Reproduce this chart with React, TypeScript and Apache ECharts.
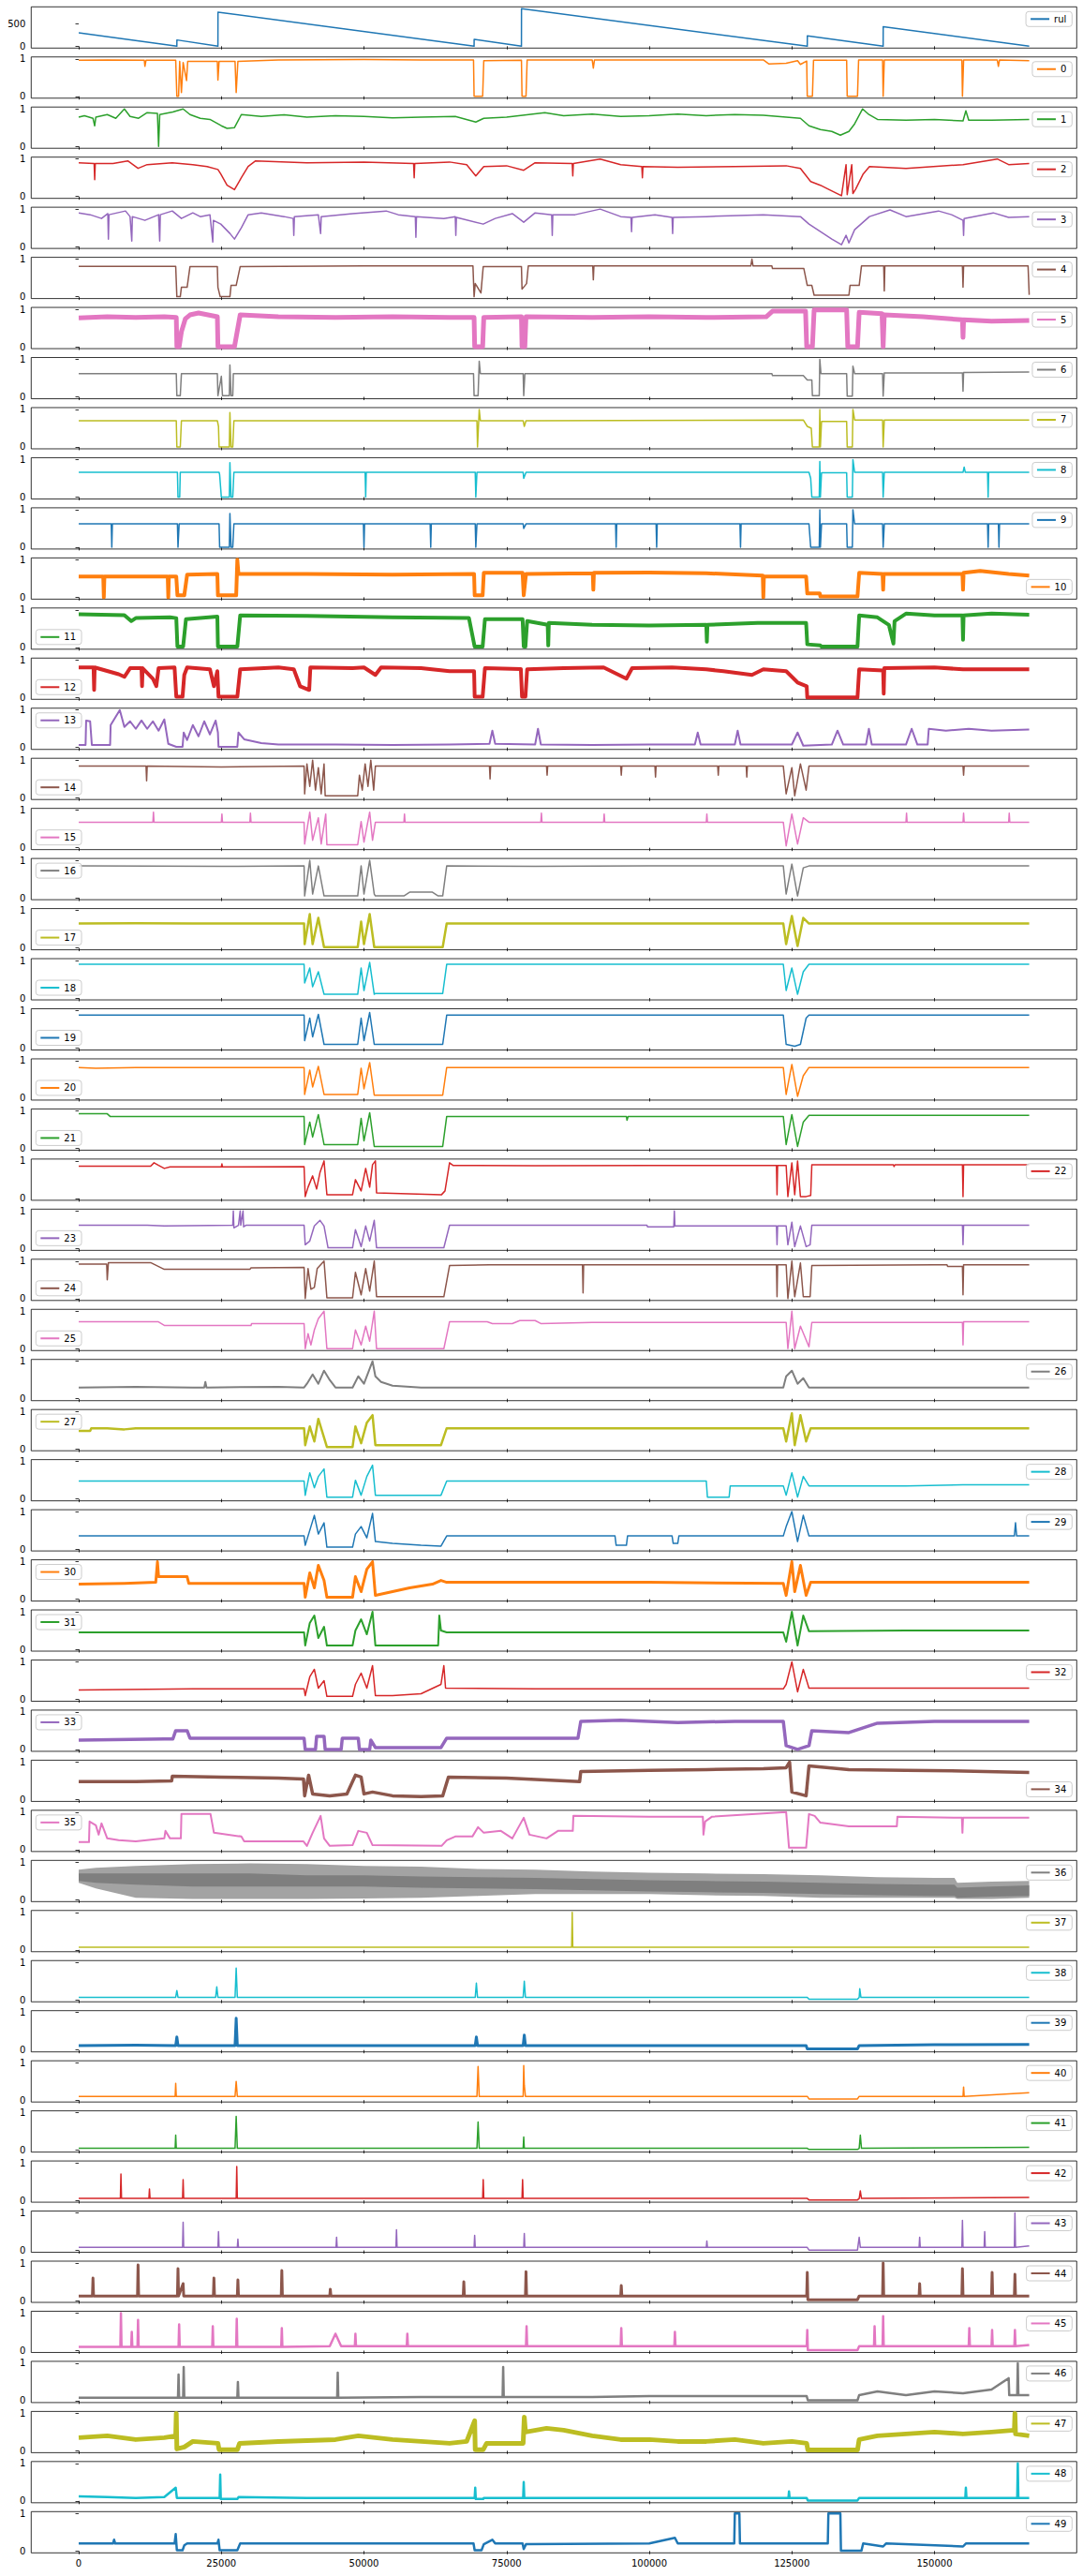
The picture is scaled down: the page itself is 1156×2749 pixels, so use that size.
import React, { useEffect, useRef } from 'react';
import * as echarts from 'echarts';

// Flat pairs: t (thousands of samples), value (percent of 0..1). rul in raw units.
const rul = [0,303, 17.2,0, 17.21,141, 24.4,0, 24.41,768, 69.3,0, 69.31,155, 77.6,0, 77.61,845, 127.7,0, 127.71,232, 141,0, 141.01,437, 166.6,0];
const s0 = [0,96, 5,97, 11.5,96, 11.6,80, 11.8,96, 17,96, 17.2,0, 17.5,0, 17.7,93, 18,10, 18.3,90, 18.9,42, 19.1,93, 24.3,93, 24.4,43, 24.6,93, 27.4,93, 27.6,10, 27.9,93, 35,97, 50,98, 60,97, 69.2,97, 69.3,0, 70.8,0, 71,95, 77.6,96, 77.7,0, 78.4,0, 78.6,97, 90,97, 90.2,75, 90.4,97, 120,97, 121,86, 124,88, 126,95, 126.5,85, 127.6,94, 127.7,0, 128.6,0, 128.8,96, 134.6,96, 134.7,0, 136.5,0, 136.7,97, 140.9,97, 141,0, 141.2,97, 154.8,97, 154.9,0, 155.1,97, 161,97, 161.2,80, 161.4,97, 166.6,95];
const s1 = [0,78, 1,82, 2.5,75, 2.8,55, 3,78, 5,85, 6.5,75, 8,100, 9,80, 10.5,75, 12,90, 13.8,88, 14,0, 14.2,85, 16.5,92, 18.3,100, 19.5,85, 21.3,75, 23,72, 25,55, 26,48, 27.3,50, 28,70, 28.5,85, 32,80, 36,84, 40,78, 45,82, 50,80, 55,76, 60,78, 66,80, 69.6,65, 71,75, 75,78, 81.7,90, 85,82, 90,86, 95,80, 100,82, 105,86, 110,82, 115,85, 120,83, 126.5,75, 128,55, 130,45, 132,40, 133.5,30, 135,40, 136,60, 137.4,100, 138.5,85, 140,72, 145,70, 150,72, 155,68, 155.5,95, 156,70, 160,70, 166.6,72];
const s2 = [0,90, 2.7,88, 2.8,45, 2.9,88, 6,88, 8.6,95, 10.4,75, 12,85, 16.4,90, 20,85, 22.5,80, 24.4,72, 24.9,60, 26,30, 27.3,18, 28.5,50, 29.7,80, 31,95, 40,90, 50,92, 58.7,88, 58.8,50, 58.9,88, 65,92, 68,85, 69.6,55, 71,80, 75,82, 78,70, 80,90, 86.5,88, 86.6,55, 86.7,88, 91.4,100, 95,85, 98.7,80, 98.8,50, 98.9,80, 105,78, 115,80, 124,82, 126.5,75, 128.3,40, 130,30, 131.3,20, 133.7,2, 134.5,85, 134.7,5, 135.5,85, 135.7,8, 136.2,20, 137.5,60, 138.6,80, 145,75, 155,85, 161,100, 163,85, 166.6,88];
const s3 = [0,90, 2,85, 4,75, 5.1,88, 5.2,20, 5.3,85, 8.2,95, 9,80, 9.3,15, 9.4,80, 11.6,70, 14,85, 14.2,15, 14.3,85, 16.4,95, 18,75, 20,90, 21.3,80, 23,85, 23.5,12, 23.6,70, 24.9,60, 26.5,35, 27.3,20, 28.5,50, 29.7,85, 32,90, 36,80, 37.6,75, 37.7,30, 37.8,80, 42,85, 42.4,35, 42.5,80, 48,88, 53.9,95, 56,85, 59,80, 59.1,25, 59.2,80, 64,75, 66,80, 66.1,30, 66.2,78, 70.9,60, 73,75, 76,88, 78,65, 80,90, 82.9,85, 83,30, 83.1,85, 87,85, 91.4,100, 95,80, 96.8,78, 96.9,40, 97,78, 101,85, 104,78, 104.1,35, 104.2,78, 110,80, 120,85, 126.5,80, 128,60, 130,40, 132,20, 133.7,5, 134.5,30, 135,10, 136,45, 138.6,80, 142.2,98, 145,80, 150.7,95, 153,85, 155,70, 155.1,30, 155.2,75, 160.3,90, 163,78, 166.6,80];
const s4 = [0,81, 17,81, 17.2,0, 17.8,0, 18,25, 19,25, 19.5,80, 24.3,80, 24.4,25, 24.8,0, 26.5,0, 26.7,30, 27.6,30, 28.3,80, 50,82, 69.1,82, 69.3,0, 69.5,35, 70.5,10, 70.9,80, 77.6,80, 77.7,20, 78.5,35, 78.8,82, 90.1,82, 90.2,45, 90.3,82, 117.8,82, 118,100, 118.2,82, 121.5,82, 121.6,75, 127.1,75, 127.3,60, 127.7,30, 128.5,30, 128.9,4, 135,4, 135.2,30, 136.8,30, 137.2,82, 141.1,82, 141.2,15, 141.3,82, 154.9,82, 155,25, 155.1,82, 166.4,82, 166.6,5];
const s5 = [0,77, 5,80, 10,78, 15,80, 17.1,78, 17.2,0, 17.6,0, 18,40, 18.7,75, 19.5,85, 21,90, 24.3,80, 24.4,0, 27.3,0, 28.3,85, 35,80, 45,78, 55,80, 65,78, 69.3,78, 69.4,0, 70.8,0, 71,78, 77.6,80, 77.7,0, 78.2,0, 78.4,80, 90,78, 100,80, 110,78, 120.5,80, 121.6,95, 127.4,95, 127.6,0, 128.6,0, 128.9,98, 134.6,98, 134.8,0, 136.5,0, 136.8,92, 140.8,88, 141,0, 141.2,85, 148,80, 154.9,72, 155,25, 155.1,72, 160,68, 166.6,70];
const s6 = [0,62, 17.1,62, 17.2,3, 17.8,3, 18,62, 24.3,62, 24.4,3, 25,55, 25.2,3, 26.4,3, 26.5,85, 26.7,3, 27,3, 27.1,62, 69.2,62, 69.3,3, 70,3, 70.2,95, 70.4,62, 77.9,62, 78,3, 78.2,62, 121.5,62, 121.6,57, 127,57, 127.7,45, 128.5,45, 128.6,3, 129.8,3, 129.9,100, 130.1,62, 134.6,62, 134.7,2, 135.6,2, 135.7,82, 136,62, 140.9,62, 141,2, 141.2,64, 154.9,64, 155,15, 155.1,65, 166.6,66];
const s7 = [0,70, 17.1,70, 17.2,0, 17.8,0, 18,70, 24.3,70, 24.5,55, 24.6,0, 26.4,0, 26.5,92, 26.7,0, 27,0, 27.2,70, 69.8,70, 69.9,0, 70.2,100, 70.4,70, 77.9,70, 78.1,55, 78.4,70, 127,72, 127.7,55, 128.4,50, 128.6,0, 129.8,0, 129.9,100, 130,0, 130.2,68, 134.6,68, 134.7,0, 135.6,0, 135.7,100, 136,72, 140.9,72, 141,0, 141.2,72, 166.6,72];
const s8 = [0,66, 17.3,66, 17.4,0, 17.7,0, 17.8,66, 24.6,66, 24.7,60, 25,0, 26.4,0, 26.5,92, 26.7,0, 27,0, 27.2,66, 50.2,66, 50.3,0, 50.4,66, 69.5,66, 69.6,0, 69.8,66, 77.9,66, 78,50, 78.4,66, 128,66, 128.3,50, 128.5,0, 129.8,0, 129.9,95, 130,0, 130.2,65, 134.6,65, 134.7,0, 135.6,0, 135.7,100, 136,66, 140.9,66, 141,0, 141.2,66, 155,66, 155.2,80, 155.4,66, 159.3,66, 159.4,0, 159.5,66, 166.6,66];
const s9 = [0,62, 5.7,62, 5.8,0, 5.9,62, 17.3,62, 17.4,0, 17.6,62, 24.6,62, 24.7,0, 26.4,0, 26.5,90, 26.7,0, 27,0, 27.2,62, 49.9,62, 50,0, 50.1,62, 61.6,62, 61.7,0, 61.8,62, 69.5,62, 69.6,0, 69.8,62, 77.9,62, 78,50, 78.4,62, 94.1,62, 94.2,0, 94.3,62, 101.2,62, 101.3,0, 101.4,62, 115.9,62, 116,0, 116.1,62, 128,62, 128.3,0, 129.8,0, 129.9,100, 130,0, 130.2,62, 134.6,62, 134.7,0, 135.6,0, 135.7,100, 136,62, 140.9,62, 141,0, 141.2,62, 159.3,62, 159.4,0, 159.5,62, 161.2,62, 161.3,0, 161.4,62, 166.6,62];
const s10 = [0,55, 4.3,55, 4.4,0, 4.5,55, 15.6,55, 15.7,0, 15.8,55, 17.1,55, 17.3,5, 18.5,5, 19,60, 24.3,62, 24.4,5, 27.6,5, 27.8,100, 28,62, 40,62, 55,60, 69.3,62, 69.4,5, 70.8,5, 71,65, 77.8,65, 78,5, 78.4,62, 90.1,64, 90.2,20, 90.3,65, 100,66, 110,64, 119.9,58, 120,0, 120.1,56, 127.5,55, 127.7,10, 129.9,10, 130,2, 136.5,2, 136.8,65, 140.9,62, 141,20, 141.1,62, 154.9,62, 155,20, 155.1,65, 158,70, 163,62, 166.6,58];
const s11 = [0,88, 8,86, 9.2,70, 10,78, 16,80, 17.1,78, 17.3,2, 18.3,2, 18.8,75, 24.3,82, 24.4,2, 27.8,2, 28.3,85, 40,84, 55,80, 68.4,78, 69.4,2, 70.8,2, 71.2,75, 77.8,75, 78,2, 78.3,2, 78.6,70, 82.2,60, 82.3,5, 82.4,65, 90,60, 100,58, 110,60, 110.1,15, 110.2,60, 119,65, 127.5,65, 127.7,8, 130,5, 130.2,2, 136.5,2, 136.8,85, 140,80, 142,60, 142.8,10, 143,70, 145,90, 150,85, 154.9,85, 155,20, 155.1,85, 160,90, 166.6,87];
const s12 = [0,80, 2.6,80, 2.7,20, 2.8,80, 7,62, 8,55, 9,78, 11,78, 11.1,30, 11.2,78, 13,50, 13.6,30, 14,78, 16.8,80, 17.1,2, 18.2,2, 18.5,60, 19,80, 23,75, 23.7,30, 24.3,70, 24.5,2, 27.8,2, 28.3,75, 35,80, 37.7,75, 38.8,30, 40.4,20, 40.6,80, 48,78, 50,80, 52,60, 53,80, 60,78, 65,70, 69.3,70, 69.4,2, 70.8,2, 71.2,78, 77.5,76, 77.7,2, 78.3,2, 78.6,75, 85,78, 92,80, 96,50, 97,78, 104,80, 110,75, 113,70, 118,60, 120,75, 124,70, 126,40, 127.6,30, 127.7,0, 136.5,0, 136.8,75, 141,72, 141.1,10, 141.2,78, 150,80, 155,75, 166.6,75];
const s13 = [0,7, 1.2,7, 1.3,72, 2,70, 2.3,7, 5.5,7, 5.6,60, 7.2,100, 8,55, 9,70, 10,50, 11,72, 12,50, 13,70, 14,45, 15,75, 15.7,10, 17.1,2, 18.2,2, 18.4,40, 19,20, 20,60, 21,30, 22,70, 23,35, 24,72, 24.4,40, 24.5,2, 27.8,2, 28,40, 29,22, 32,12, 35,8, 45,8, 55,7, 65,8, 72,10, 72.5,45, 73,10, 80,8, 80.5,50, 81,8, 90,7, 100,8, 108,8, 108.5,40, 109,8, 115,8, 115.5,45, 116,8, 125,8, 126,40, 127,5, 132,8, 133,45, 134,8, 138,8, 138.5,50, 139,8, 145,8, 146,50, 147,8, 148.8,8, 149,50, 152,45, 156,50, 160,45, 166.6,48];
const s14 = [0,84, 11.8,84, 11.9,45, 12,84, 25,82, 39.5,84, 39.6,10, 40,90, 40.5,30, 41,100, 41.5,20, 42,80, 42.5,10, 43,90, 43.2,5, 48.9,5, 49.2,60, 49.7,20, 50.2,90, 50.7,30, 51.2,100, 51.7,20, 52,84, 60,84, 72,84, 72.1,50, 72.2,84, 82,84, 82.1,60, 82.2,84, 95,84, 95.1,60, 95.2,84, 101,84, 101.1,55, 101.2,84, 112,84, 112.1,60, 112.2,84, 117,84, 117.1,55, 117.2,84, 123.5,84, 124,10, 125,80, 125.5,5, 126.5,90, 127.5,20, 128,84, 140,84, 155,84, 155.1,60, 155.2,84, 166.6,84];
const s15 = [0,68, 13,68, 13.1,95, 13.2,68, 25,68, 25.1,90, 25.2,68, 30,68, 30.1,92, 30.2,68, 39.5,68, 39.6,10, 40.5,95, 41,20, 42,80, 42.5,10, 43.3,90, 43.5,8, 48.9,8, 49.5,70, 50,15, 51,95, 51.5,20, 52,68, 57,68, 57.1,90, 57.2,68, 81,68, 81.1,92, 81.2,68, 92,68, 92.1,90, 92.2,68, 110,68, 110.1,90, 110.2,68, 123.5,68, 124,5, 125,90, 126,10, 127,80, 128,68, 145,68, 145.1,92, 145.2,68, 155,68, 155.1,92, 155.2,68, 163,68, 163.1,92, 163.2,68, 166.6,68];
const s16 = [0,85, 25,84, 39.5,85, 39.6,5, 40.5,100, 41,10, 42,85, 43,5, 48.9,5, 49.5,85, 50,10, 51,100, 51.8,10, 52,5, 57,5, 58,15, 62,15, 63,5, 63.8,5, 64.5,85, 80,84, 100,85, 123.5,85, 124,10, 125,90, 126,5, 127,80, 128,85, 145,85, 166.6,85];
const s17 = [0,65, 10,66, 20,65, 30,65, 39.5,65, 39.6,10, 40.5,90, 41,10, 42,80, 43,2, 48.9,2, 49.5,70, 50,10, 51,90, 51.8,2, 63.8,2, 64.5,65, 80,65, 100,65, 123.5,65, 124,10, 125,85, 126,5, 127,80, 128,65, 145,65, 166.6,65];
const s18 = [0,90, 39.5,90, 39.6,40, 40.5,80, 41,30, 42,70, 43,10, 48.9,10, 49.5,80, 50,20, 51,95, 51.8,10, 52,12, 63.8,12, 64.5,90, 123.5,90, 124,20, 125,80, 126,10, 127,70, 128,90, 166.6,90];
const s19 = [0,88, 39.5,88, 39.6,20, 40.5,80, 41,30, 42,90, 43,10, 48.9,10, 49.5,80, 50,20, 51,95, 51.8,10, 63.8,10, 64.5,88, 123.5,88, 124,10, 125.5,5, 126.5,10, 127.5,80, 128,88, 166.6,88];
const s20 = [0,82, 3,80, 10,82, 39.5,82, 39.6,10, 40.5,75, 41,30, 42,85, 43,10, 48.9,10, 49.5,80, 50,25, 51,95, 51.8,8, 63.8,8, 64.5,82, 123.5,82, 124,10, 125,90, 126,5, 127,60, 128,82, 166.6,82];
const s21 = [0,92, 5,92, 5.5,85, 25,85, 39.5,85, 39.6,10, 40.5,70, 41,30, 42,90, 43,10, 48.9,10, 49.5,80, 50,20, 51,95, 51.8,5, 63.8,5, 64.5,85, 96,85, 96.1,75, 96.3,85, 123.5,85, 124,10, 125,90, 126,5, 127,70, 128,88, 166.6,88];
const s22 = [0,86, 12.6,86, 13.2,95, 14,88, 15,80, 16,84, 25,84, 25.1,92, 25.2,84, 39.5,85, 39.7,5, 40.2,30, 41,60, 41.7,25, 42.3,70, 43,100, 43.5,10, 48,10, 48.5,50, 49.5,20, 50.3,80, 51,30, 51.5,90, 52,100, 52.2,15, 63.6,10, 64.2,20, 65,95, 65.6,88, 80,87, 100,88, 110,88, 122.3,88, 122.4,10, 122.5,88, 124,88, 124.3,5, 125,95, 125.5,10, 126,100, 126.5,5, 127.5,5, 128.3,8, 128.5,90, 140,90, 142.8,90, 142.9,85, 143.1,90, 154.9,90, 155,5, 155.1,90, 166.6,90];
const s23 = [0,62, 12,62, 15,60, 27,62, 27.1,100, 27.2,55, 28,62, 28.3,100, 28.4,62, 28.8,100, 28.9,58, 29.3,62, 39.5,62, 39.7,10, 40.5,20, 41.3,60, 42.3,75, 43,60, 43.7,2, 48,2, 48.5,50, 49.5,5, 50.3,60, 51,20, 51.8,75, 52.2,2, 64,2, 65,62, 90,62, 99.6,62, 99.7,58, 104.3,58, 104.4,100, 104.5,60, 122.3,60, 122.4,10, 122.5,60, 124,60, 124.3,10, 125,70, 125.5,5, 126.5,60, 127.5,5, 128.2,10, 128.5,62, 154.9,62, 155,10, 155.1,62, 166.6,62];
const s24 = [0,92, 4.9,92, 5,50, 5.2,96, 12.6,96, 15,78, 30,78, 30.2,82, 39.5,83, 39.7,0, 40.2,80, 40.7,25, 41.3,30, 41.8,80, 43,100, 43.5,2, 48,2, 48.5,70, 49.5,10, 50.3,80, 51,20, 51.8,100, 52.2,5, 64,5, 65,88, 72,90, 88.3,90, 88.4,15, 88.5,90, 110,90, 122.3,90, 122.4,5, 122.5,90, 124,90, 124.3,0, 125,100, 125.5,5, 126.5,95, 127,5, 128.2,5, 128.5,88, 150,90, 152.2,90, 152.3,86, 154.9,86, 155,10, 155.1,90, 166.6,90];
const s25 = [0,72, 13.9,72, 15,62, 30.2,62, 30.3,67, 39.5,67, 39.7,0, 40.2,40, 40.7,10, 41.3,50, 42,80, 43,100, 43.5,0, 48,0, 48.5,50, 49.5,10, 50.3,60, 51,20, 51.8,100, 52.2,0, 64,0, 65,72, 71.6,72, 72.5,67, 76,67, 77.3,75, 80,75, 81,67, 90,70, 110,70, 124,70, 124.3,0, 125,100, 125.5,0, 126.5,60, 128,5, 128.5,70, 150,70, 154.9,70, 155,10, 155.1,72, 166.6,72];
const s26 = [0,30, 10,32, 20,30, 22,30, 22.2,45, 22.4,30, 35,32, 39.5,30, 40,40, 41,65, 42,40, 43,75, 44,50, 45,30, 48,30, 49,60, 50,40, 51,80, 51.5,100, 52,60, 53,45, 55,35, 60,30, 70,30, 80,30, 100,30, 123.5,30, 124,60, 125,75, 126,40, 127,55, 128,30, 145,30, 166.6,30];
const s27 = [0,48, 2,48, 2.2,55, 5,55, 8,52, 10,55, 15,55, 22,55, 30,55, 39.5,55, 39.7,10, 40.5,60, 41.3,20, 42,80, 43,30, 43.5,5, 48,5, 48.5,60, 49.5,15, 50.5,70, 51.5,90, 52,10, 63.5,10, 64.5,55, 80,55, 100,55, 123.5,55, 124,20, 125,95, 125.5,10, 126.5,90, 127.5,20, 128.3,55, 145,55, 166.6,55];
const s28 = [0,48, 39.5,48, 39.7,10, 40.5,70, 41.3,30, 42,60, 43,80, 43.5,5, 48,5, 48.5,50, 49.5,10, 50.5,60, 51.5,90, 52,10, 63.5,10, 64.5,48, 90,48, 110,48, 110.2,5, 114,5, 114.2,35, 123.5,35, 124,10, 125,70, 126,5, 127,60, 128,35, 145,35, 155,38, 166.6,38];
const s29 = [0,35, 39.5,35, 39.7,10, 40.5,50, 41.3,90, 42,40, 43,70, 43.5,5, 48,5, 48.5,40, 49.5,60, 50.5,30, 51.5,95, 52,20, 55,15, 60,10, 63.5,8, 64.5,35, 80,35, 94,35, 94.2,10, 96,10, 96.2,35, 104,35, 104.2,15, 105,15, 105.2,35, 123.5,35, 124,60, 125,100, 126,20, 127,90, 128,35, 145,35, 164,35, 164.2,70, 164.4,35, 166.6,35];
const s30 = [0,40, 8,42, 13.5,45, 13.8,100, 14,60, 19,60, 19.3,42, 30,42, 39.5,42, 39.7,5, 40.5,70, 41.3,30, 42,90, 43,50, 43.5,5, 48,5, 48.5,60, 49.5,20, 50.5,80, 51.5,100, 52,10, 55,20, 58,30, 62,40, 63.5,50, 64.5,45, 80,45, 100,45, 123.5,42, 124,10, 125,100, 125.5,20, 126.5,90, 127.5,10, 128.3,45, 145,45, 166.6,45];
const s31 = [0,45, 39.5,45, 39.7,10, 40.5,70, 41.3,90, 42,30, 43,60, 43.5,10, 48,10, 48.5,50, 49.5,80, 50.5,40, 51.5,100, 52,10, 63,10, 63.2,90, 63.5,50, 64.5,45, 100,45, 123.5,45, 124,20, 125,100, 126,10, 127,90, 128,48, 145,50, 166.6,50];
const s32 = [0,25, 20,28, 39.5,28, 39.7,10, 40.5,60, 41.3,80, 42,30, 43,50, 43.5,8, 48,8, 48.5,40, 49.5,70, 50.5,30, 51.5,90, 52,10, 55,10, 60,15, 63.5,40, 64,90, 64.3,30, 80,28, 100,28, 123.5,28, 124,40, 125,100, 126,20, 127,80, 128,30, 145,30, 166.6,30];
const s33 = [0,25, 15,28, 16.5,28, 17,50, 19,50, 19.5,30, 30,30, 39.5,30, 39.7,0, 41.5,0, 41.7,35, 43,35, 43.2,0, 46,0, 46.2,30, 49,30, 49.2,0, 51,0, 51.2,25, 52,5, 63.5,5, 64.5,30, 80,30, 87.5,30, 88,75, 95,78, 105,72, 115,75, 123.5,75, 124,10, 126,0, 128,10, 128.5,50, 135,45, 140,70, 150,75, 160,75, 166.6,75];
const s34 = [0,48, 10,48, 16.3,50, 16.4,62, 25,60, 35,57, 39.4,55, 39.6,10, 40.3,65, 41,15, 44,10, 47,15, 48.5,65, 49.5,60, 50,15, 51.5,20, 55,10, 60,8, 63.8,10, 64.8,60, 75,57, 87.8,48, 88,75, 100,78, 110,80, 120,82, 124,85, 124.6,100, 125,20, 127.5,10, 128,90, 135,80, 145,78, 155,76, 166.6,72];
const s35 = [0,20, 1.8,20, 1.9,75, 3,65, 3.5,40, 4,70, 5,30, 7,25, 10,22, 15,30, 15.2,50, 16,30, 17.9,30, 18,95, 23.1,95, 23.7,45, 28.5,35, 29,22, 39.4,22, 40,10, 41,45, 42.4,90, 43,30, 44,10, 48,12, 49,50, 50.5,45, 51.5,12, 63.6,10, 64.5,25, 66,35, 69,35, 70,60, 71,45, 74,50, 76,30, 78,85, 79,40, 82,30, 84,50, 86.6,50, 86.7,90, 100,88, 109.4,88, 109.5,40, 109.8,75, 111,88, 124,100, 124.5,5, 127.5,5, 128,95, 129,90, 130,72, 135,62, 143.4,62, 143.5,88, 154.8,85, 154.9,45, 155,85, 166.6,85];
// series 36: envelope of the dense sawtooth (outer low, core low, core high, outer high)
const s36t = [0, 3, 10, 20, 30, 40, 50, 60, 70, 80, 90, 100, 110, 120, 130, 140, 150, 153.5, 154, 160, 166.6];
const s36lo = [45, 30, 5, 2, 2, 2, 3, 5, 10, 15, 15, 15, 12, 10, 5, 5, 5, 5, 2, 2, 5];
const s36clo = [50, 45, 40, 35, 35, 35, 35, 32, 30, 28, 25, 22, 20, 18, 15, 12, 10, 10, 5, 8, 10];
const s36chi = [70, 70, 70, 70, 70, 65, 65, 62, 60, 58, 55, 52, 50, 48, 45, 42, 40, 40, 32, 35, 38];
const s36hi = [80, 85, 90, 95, 97, 95, 90, 88, 82, 80, 75, 72, 70, 68, 65, 60, 58, 58, 45, 48, 50];
const s37 = [0,7, 86.4,7, 86.5,100, 86.6,7, 166.6,7];
const s38 = [0,7, 17,7, 17.2,25, 17.4,7, 24,7, 24.2,35, 24.4,7, 27.4,7, 27.6,85, 27.8,7, 69.5,7, 69.7,45, 69.9,7, 77.9,7, 78.1,50, 78.3,7, 127.7,7, 128,2, 136.5,2, 136.8,7, 136.9,30, 137.1,7, 166.6,7];
const s39 = [0,12, 10,13, 17,12, 17.2,35, 17.4,12, 27.4,12, 27.6,85, 27.8,12, 40,12, 60,12, 69.5,12, 69.7,35, 69.9,12, 77.9,12, 78.1,40, 78.3,12, 100,12, 127.5,12, 127.7,3, 136.5,3, 136.8,12, 150,14, 166.6,15];
const s40 = [0,10, 16.9,10, 17,45, 17.1,10, 27.4,10, 27.6,50, 27.8,10, 69.8,10, 70,90, 70.2,10, 77.9,10, 78,92, 78.1,40, 78.3,10, 127.7,10, 128,3, 136.5,3, 136.8,10, 155,10, 155.1,35, 155.2,10, 166.6,20];
const s41 = [0,5, 16.9,5, 17,40, 17.1,5, 27.4,5, 27.6,90, 27.8,5, 69.8,5, 70,75, 70.2,5, 77.9,5, 78,35, 78.1,5, 127.7,5, 128,2, 136.5,2, 136.8,5, 137,40, 137.2,5, 166.6,8];
const s42 = [0,5, 7.3,5, 7.4,70, 7.5,5, 12.3,5, 12.4,30, 12.5,5, 18.2,5, 18.3,55, 18.4,5, 27.6,5, 27.7,90, 27.8,5, 70.8,5, 70.9,55, 71,5, 77.7,5, 77.8,55, 77.9,5, 127.7,5, 128,1, 136.5,1, 136.8,5, 137,25, 137.2,5, 166.6,8];
const s43 = [0,8, 18.2,8, 18.3,75, 18.4,8, 24.4,8, 24.5,50, 24.6,8, 27.8,8, 27.9,30, 28,8, 45.1,8, 45.2,35, 45.3,8, 55.6,8, 55.7,55, 55.8,8, 69.3,8, 69.4,40, 69.5,8, 78,8, 78.1,45, 78.2,8, 110,8, 110.1,25, 110.2,8, 127.7,8, 128,1, 136.5,1, 136.8,35, 137,8, 147.3,8, 147.4,35, 147.5,8, 154.8,8, 154.9,80, 155,8, 158.7,8, 158.8,50, 158.9,8, 164,8, 164.1,100, 164.2,8, 166.6,12];
const s44 = [0,12, 2.4,12, 2.5,60, 2.6,12, 10.3,12, 10.4,95, 10.5,12, 17.3,12, 17.4,85, 17.5,12, 18.3,45, 18.4,12, 23.6,12, 23.7,60, 23.8,12, 27.8,12, 27.9,55, 28,12, 35.5,12, 35.6,80, 35.7,12, 44,12, 44.1,30, 44.2,12, 67.4,12, 67.5,50, 67.6,12, 78.3,12, 78.4,77, 78.5,12, 95,12, 95.1,40, 95.2,12, 127.6,12, 127.7,75, 127.8,2, 136.5,2, 136.8,12, 140.9,12, 141,100, 141.1,12, 147.3,12, 147.4,45, 147.5,12, 154.8,12, 154.9,85, 155,12, 160,12, 160.1,75, 160.2,12, 164,12, 164.1,70, 164.2,12, 166.6,12];
const s45 = [0,10, 7.3,10, 7.4,100, 7.5,10, 9.2,10, 9.3,50, 9.4,10, 10.3,10, 10.4,82, 10.5,10, 17.5,10, 17.6,70, 17.7,10, 23.4,10, 23.5,65, 23.6,10, 27.6,10, 27.7,85, 27.8,10, 35.5,10, 35.6,60, 35.7,10, 44,12, 45,45, 46,12, 48.4,12, 48.5,45, 48.6,12, 57.5,12, 57.6,45, 57.7,12, 78.4,12, 78.5,65, 78.6,12, 95,12, 95.1,60, 95.2,12, 104.4,12, 104.5,50, 104.6,12, 127.6,12, 127.7,55, 127.8,1, 136.5,1, 136.8,12, 139.4,12, 139.5,65, 139.6,12, 140.9,12, 141,92, 141.1,12, 156,12, 156.1,60, 156.2,12, 160,12, 160.1,55, 160.2,12, 164,12, 164.1,55, 164.2,12, 166.6,15];
const s46 = [0,8, 17.4,8, 17.5,70, 17.6,8, 18.3,8, 18.4,90, 18.5,8, 27.8,8, 27.9,50, 28,8, 45.3,8, 45.4,75, 45.5,8, 60,10, 74.3,10, 74.4,90, 74.5,10, 90,10, 100,12, 127.6,12, 127.8,1, 136.5,1, 136.8,15, 140,25, 145,15, 150,25, 155,20, 160,30, 163,60, 163.1,15, 164.5,15, 164.6,100, 164.7,15, 166.6,15];
const s47 = [0,35, 5,40, 10,30, 15,35, 17,40, 17.1,100, 17.2,5, 18.5,10, 20,25, 24.4,20, 24.6,3, 27.8,3, 28.2,20, 35,25, 45,30, 49,40, 55,30, 60,25, 65,20, 68,25, 69.4,80, 69.5,3, 70.9,3, 71.5,20, 77.9,20, 78.1,90, 78.3,50, 82,60, 85,55, 90,40, 95,30, 100,30, 105,25, 110,25, 115,30, 120,20, 125,25, 127.6,20, 127.8,2, 136.5,2, 136.8,30, 140,40, 145,45, 150,50, 155,45, 160,50, 164,55, 164.1,100, 164.2,45, 166.6,40];
const s48 = [0,12, 5,10, 10,8, 15,10, 17,35, 17.2,8, 24.7,8, 24.8,70, 24.9,5, 27.8,5, 28,10, 40,8, 69.4,8, 69.5,35, 69.6,5, 70.9,5, 71,8, 77.9,8, 78,50, 78.1,8, 100,8, 124.4,8, 124.5,25, 124.6,8, 127.6,8, 127.8,1, 136.5,1, 136.8,8, 155.4,8, 155.5,35, 155.6,8, 164.5,8, 164.6,100, 164.7,8, 166.6,8];
const s49 = [0,20, 6,20, 6.2,30, 6.4,20, 16.8,20, 17,45, 17.2,2, 18.2,2, 18.5,15, 19,20, 24.3,20, 24.5,30, 24.7,2, 27.8,2, 28.3,20, 50,20, 69.2,20, 69.4,2, 70.6,2, 71,18, 72.5,30, 73,20, 77.8,20, 78,5, 78.4,18, 100,20, 104.5,35, 105,20, 114.9,20, 115,100, 115.8,100, 115.9,20, 131.3,20, 131.4,100, 133.5,100, 133.6,1, 137.2,1, 137.5,20, 141,12, 141.5,20, 155,12, 155.5,20, 166.6,20];

const NAMES = ['rul', '0','1','2','3','4','5','6','7','8','9','10','11','12','13','14','15','16','17','18','19','20','21','22','23','24','25','26','27','28','29','30','31','32','33','34','35','36','37','38','39','40','41','42','43','44','45','46','47','48','49'];
const SERIES = [rul, s0, s1, s2, s3, s4, s5, s6, s7, s8, s9, s10, s11, s12, s13, s14, s15, s16, s17, s18, s19, s20, s21, s22, s23, s24, s25, s26, s27, s28, s29, s30, s31, s32, s33, s34, s35, null, s37, s38, s39, s40, s41, s42, s43, s44, s45, s46, s47, s48, s49];

const TAB10 = ['#1f77b4','#ff7f0e','#2ca02c','#d62728','#9467bd','#8c564b','#e377c2','#7f7f7f','#bcbd22','#17becf'];
const WIDTH: Record<string, number> = { '5': 5, '10': 4, '11': 4, '12': 4, '13': 2, '17': 2.5, '26': 2, '27': 2.5, '30': 3, '31': 2, '33': 3.5, '34': 3.5, '35': 2, '39': 3, '44': 3, '45': 2.5, '46': 2.5, '47': 5, '48': 2.5, '49': 2.5 };
const LEGPOS: Record<string, string> = { '10': 'lr', '34': 'lr', '11': 'll', '12': 'll', '14': 'll', '15': 'll', '17': 'll', '18': 'll', '19': 'll', '20': 'll', '21': 'll', '23': 'll', '24': 'll', '25': 'll', '13': 'ul', '16': 'ul', '27': 'ul', '30': 'ul', '31': 'ul', '33': 'ul', '35': 'ul' };

const W = 1156, H = 2749;
const LEFT = 33.3, PW = 1116, TOP0 = 7.3, PITCH = 53.46, PH = 44;
const XMIN = -8330, XMAX = 174930;
const XT = [0, 25000, 50000, 75000, 100000, 125000, 150000];

function toPairs(a: number[], scale: number) {
  const out: number[][] = [];
  for (let i = 0; i < a.length; i += 2) out.push([a[i] * 1000, a[i + 1] / scale]);
  return out;
}

function bandPolygon(api: any, upper: number[], lower: number[]) {
  const pts: number[][] = [];
  for (let k = 0; k < s36t.length; k++) pts.push(api.coord([s36t[k] * 1000, upper[k] / 100]));
  for (let k = s36t.length - 1; k >= 0; k--) pts.push(api.coord([s36t[k] * 1000, lower[k] / 100]));
  return pts;
}

function buildOption() {
  const grid: any[] = [], xAxis: any[] = [], yAxis: any[] = [], series: any[] = [], legend: any[] = [];
  const n = NAMES.length;
  for (let i = 0; i < n; i++) {
    const name = NAMES[i];
    const top = TOP0 + PITCH * i;
    const color = TAB10[i % 10];
    grid.push({ left: LEFT, top, width: PW, height: PH, show: true, borderColor: '#000', borderWidth: 0.8, backgroundColor: 'transparent' });
    const last = i === n - 1;
    xAxis.push({
      type: 'value', gridIndex: i, min: XMIN, max: XMAX,
      axisLine: { show: false }, splitLine: { show: false },
      axisTick: { show: true, length: 3.5, customValues: XT, lineStyle: { color: '#000', width: 0.8 } },
      axisLabel: { show: last, customValues: XT, margin: 6, fontSize: 10, color: '#000', fontFamily: 'DejaVu Sans', formatter: (v: number) => String(v) },
    });
    const isRul = i === 0;
    const yt = isRul ? [0, 500] : [0, 1];
    yAxis.push({
      type: 'value', gridIndex: i,
      min: isRul ? -42.25 : -0.05, max: isRul ? 887.25 : 1.05,
      axisLine: { show: false }, splitLine: { show: false },
      axisTick: { show: true, length: 3.5, customValues: yt, lineStyle: { color: '#000', width: 0.8 } },
      axisLabel: { show: true, customValues: yt, margin: 6, fontSize: 10, color: '#000', fontFamily: 'DejaVu Sans', formatter: (v: number) => String(v) },
    });
    if (name === '36') {
      const data = s36t.map((t, k) => [t * 1000, s36lo[k] / 100, s36clo[k] / 100, s36chi[k] / 100, s36hi[k] / 100]);
      series.push({
        type: 'custom', name, coordinateSystem: 'cartesian2d', xAxisIndex: i, yAxisIndex: i,
        data, encode: { x: 0, y: [1, 2, 3, 4] }, silent: true, clip: true,
        itemStyle: { color },
        renderItem: (params: any, api: any) => {
          if (params.dataIndex !== 0) return null;
          return {
            type: 'group',
            children: [
              { type: 'polygon', shape: { points: bandPolygon(api, s36hi, s36lo) }, style: { fill: color, opacity: 0.72 } },
              { type: 'polygon', shape: { points: bandPolygon(api, s36chi, s36clo) }, style: { fill: color, opacity: 1 } },
            ],
          };
        },
      });
    } else {
      const arr = SERIES[i] as number[];
      series.push({
        type: 'line', name, xAxisIndex: i, yAxisIndex: i, data: toPairs(arr, isRul ? 1 : 100),
        showSymbol: false, symbol: 'none', silent: true, color,
        lineStyle: { width: WIDTH[name] || 1.5, color, join: 'round', cap: 'butt' },
      });
    }
    const pos = LEGPOS[name] || 'ur';
    const lg: any = {
      data: [{ name, itemStyle: { color } }], selectedMode: false, orient: 'horizontal',
      icon: 'rect', itemWidth: 20, itemHeight: 2,
      padding: [3, 6, 3, 5], borderColor: '#cccccc', borderWidth: 1, borderRadius: 3,
      backgroundColor: 'rgba(255,255,255,0.8)',
      textStyle: { fontSize: 10, color: '#000', fontFamily: 'DejaVu Sans' },
      z: 10,
    };
    if (pos[1] === 'r') lg.right = W - (LEFT + PW) + 5; else lg.left = LEFT + 5;
    if (pos[0] === 'u') lg.top = top + 5; else lg.bottom = H - (top + PH) + 5;
    legend.push(lg);
  }
  return {
    animation: false,
    backgroundColor: '#ffffff',
    textStyle: { fontFamily: 'DejaVu Sans' },
    grid, xAxis, yAxis, series, legend,
  };
}

export default function App() {
  const ref = useRef<HTMLDivElement>(null);
  useEffect(() => {
    if (!ref.current) return;
    const chart = echarts.init(ref.current, null, { renderer: 'svg' });
    chart.setOption(buildOption() as any);
    return () => chart.dispose();
  }, []);
  return <div ref={ref} style={{ position: 'absolute', left: 0, top: 0, width: W, height: H }} />;
}
